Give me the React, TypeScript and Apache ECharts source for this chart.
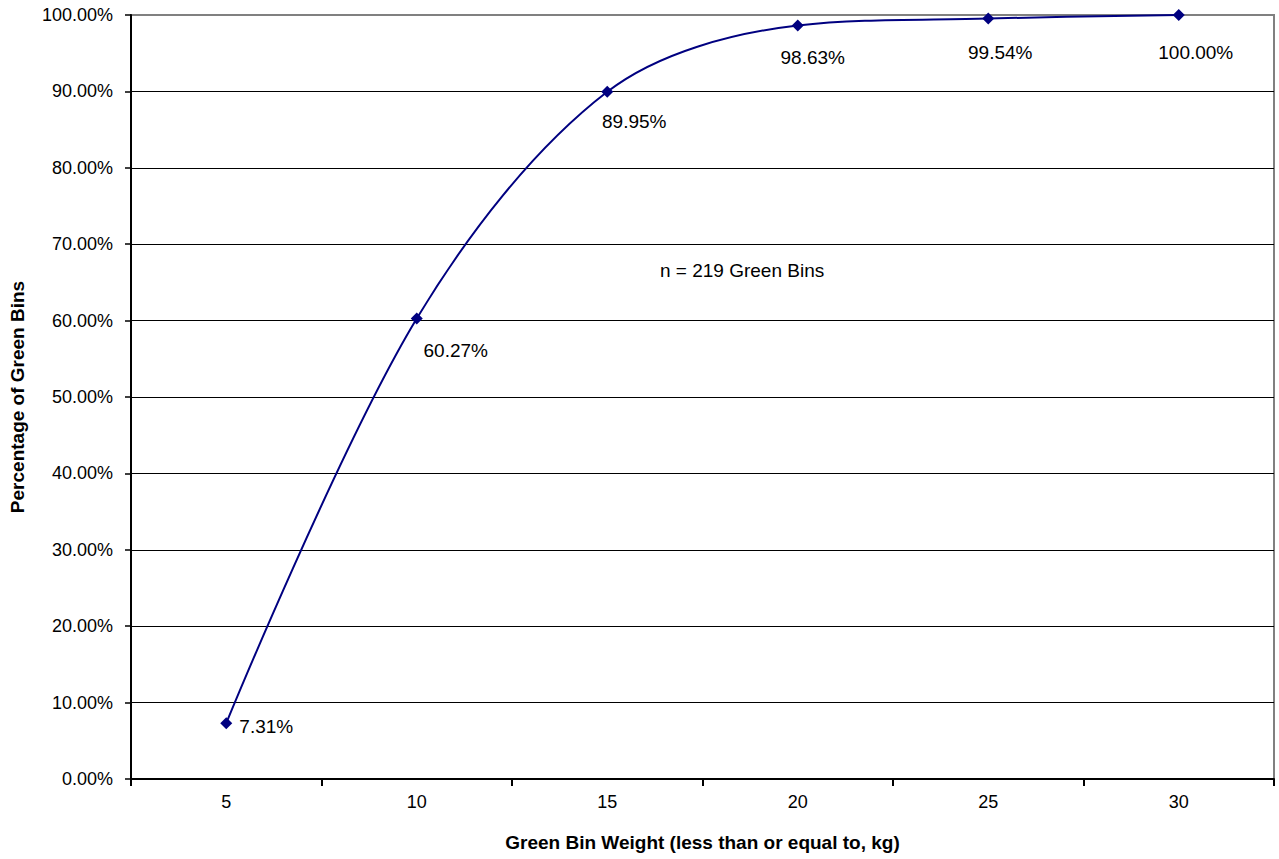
import React, { useEffect, useRef } from "react";
import * as echarts from "echarts";

const categories = ["5", "10", "15", "20", "25", "30"];
const cumulativePct = [7.31, 60.27, 89.95, 98.63, 99.54, 100.0];
const yTicks = { min: 0, max: 100, step: 10 };
const noteText = "n = 219 Green Bins";
const xTitle = "Green Bin Weight (less than or equal to, kg)";
const yTitle = "Percentage of Green Bins";

export default function App() {
  const ref = useRef<HTMLDivElement>(null);
  useEffect(() => {
    if (!ref.current) return;
    const chart = echarts.init(ref.current, null, { renderer: "svg" });
    const labelOffsets: [number, number][] = [
      [40, 3],
      [39, 32],
      [27, 30],
      [15, 32],
      [12, 34],
      [17, 37],
    ];
    const font = "Arial, 'Liberation Sans', sans-serif";
    chart.setOption({
      animation: false,
      backgroundColor: "#ffffff",
      textStyle: { fontFamily: font },
      grid: {
        left: 129,
        right: 5,
        top: 15,
        bottom: 80,
        show: true,
        borderColor: "#808080",
        borderWidth: 2,
        backgroundColor: "#ffffff",
      },
      xAxis: {
        type: "category",
        data: categories,
        boundaryGap: true,
        axisLine: { lineStyle: { color: "#000", width: 2 } },
        axisTick: { show: true, length: 7, lineStyle: { color: "#000", width: 2 } },
        axisLabel: { color: "#000", fontSize: 18, margin: 14, fontFamily: font },
        name: xTitle,
        nameLocation: "middle",
        nameGap: 54,
        nameTextStyle: { color: "#000", fontSize: 19, fontWeight: "bold", fontFamily: font },
      },
      yAxis: {
        type: "value",
        min: yTicks.min,
        max: yTicks.max,
        interval: yTicks.step,
        axisLine: { show: true, lineStyle: { color: "#000", width: 2 } },
        axisTick: { show: true, length: 6, lineStyle: { color: "#000", width: 1.5 } },
        axisLabel: {
          color: "#000",
          fontSize: 18,
          margin: 18,
          fontFamily: font,
          formatter: (v: number) => v.toFixed(2) + "%",
        },
        splitLine: { show: true, showMaxLine: false, lineStyle: { color: "#000", width: 1.2 } },
        name: yTitle,
        nameLocation: "middle",
        nameGap: 104,
        nameTextStyle: { color: "#000", fontSize: 19, fontWeight: "bold", fontFamily: font },
      },
      graphic: [
        {
          type: "text",
          left: 660,
          top: 261,
          style: { text: noteText, fill: "#000", font: `19px ${font}` },
        },
      ],
      series: [
        {
          type: "line",
          smooth: 0.33,
          data: cumulativePct.map((v, i) => ({
            value: v,
            label: { offset: labelOffsets[i] },
          })),
          symbol: "diamond",
          symbolSize: 12,
          itemStyle: { color: "#000080" },
          lineStyle: { color: "#000080", width: 2 },
          label: {
            show: true,
            position: "inside",
            align: "center",
            verticalAlign: "middle",
            color: "#000",
            fontSize: 19,
            fontFamily: font,
            formatter: (p: any) => Number(p.value).toFixed(2) + "%",
          },
        },
      ],
    });
    return () => chart.dispose();
  }, []);
  return (
    <div
      ref={ref}
      style={{ position: "fixed", left: 0, top: 0, width: 1279, height: 859, background: "#fff" }}
    />
  );
}
